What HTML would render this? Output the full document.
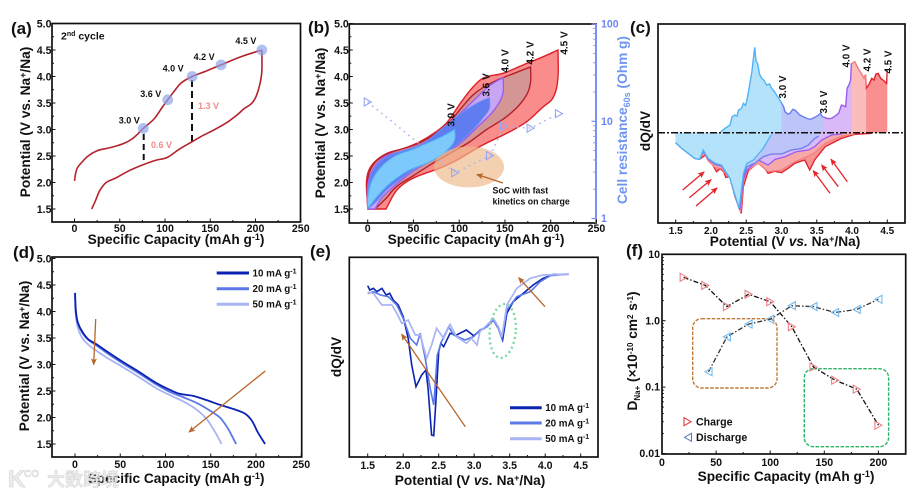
<!DOCTYPE html>
<html lang="en">
<head>
<meta charset="utf-8">
<title>Electrochemical charts</title>
<style>
html,body{margin:0;padding:0;background:#fff;}
svg{display:block;font-family:"Liberation Sans","Noto Sans CJK SC",sans-serif;font-weight:bold;filter:blur(0.35px);}
.fr{fill:none;stroke:#111;stroke-width:1.7;}
.tt{font-size:13.7px;fill:#111;text-anchor:middle;}
.pl{font-size:17px;fill:#111;}
.an{font-size:9px;fill:#111;}
.lg{font-size:9.8px;fill:#111;}
</style>
</head>
<body>
<svg id="fig" xmlns="http://www.w3.org/2000/svg" width="915" height="496" viewBox="0 0 915 496">
<defs>
<marker id="hb" markerWidth="7" markerHeight="6" refX="6" refY="3" orient="auto" markerUnits="userSpaceOnUse"><path d="M0,0L7,3L0,6L1.5,3z" fill="#b8652a"/></marker>
<marker id="hr" markerWidth="7" markerHeight="6" refX="6" refY="3" orient="auto" markerUnits="userSpaceOnUse"><path d="M0,0L7,3L0,6L1.5,3z" fill="#e3242b"/></marker>
</defs>
<rect width="915" height="496" fill="#fff"/>

<g id="pa">
  <text class="pl" x="11" y="34">(a)</text>
  <text class="tt" x="176" y="244">Specific Capacity (mAh g<tspan dy="-4" font-size="9">-1</tspan><tspan dy="4">)</tspan></text>
  <text class="tt" transform="translate(30,122) rotate(-90)">Potential (V vs. Na<tspan dy="-4" font-size="9">+</tspan><tspan dy="4">/Na)</tspan></text>
  <text x="61" y="39.5" font-size="10.5" fill="#111">2<tspan dy="-3.5" font-size="7">nd</tspan><tspan dy="3.5"> cycle</tspan></text>
  <line x1="143.7" y1="134" x2="143.7" y2="165" stroke="#111" stroke-width="2" stroke-dasharray="6,4"/>
  <line x1="192" y1="80" x2="192" y2="142" stroke="#111" stroke-width="2" stroke-dasharray="7,4"/>
  <text x="198" y="109" font-size="9" fill="#f28b8b">1.3 V</text>
  <text x="151" y="148" font-size="9" fill="#f28b8b">0.6 V</text>
</g>

<g id="pb">
  <text class="pl" x="308" y="33">(b)</text>
  <text class="tt" x="476" y="244">Specific Capacity (mAh g<tspan dy="-4" font-size="9">-1</tspan><tspan dy="4">)</tspan></text>
  <text class="tt" transform="translate(325,123) rotate(-90)">Potential (V vs. Na<tspan dy="-4" font-size="9">+</tspan><tspan dy="4">/Na)</tspan></text>
  <text class="tt" style="fill:#6f95f3" transform="translate(627,120) rotate(-90)">Cell resistance<tspan dy="3" font-size="9">60s</tspan><tspan dy="-3"> (Ohm g)</tspan></text>
</g>

<g id="pc">
  <text class="pl" x="630" y="33">(c)</text>
  <text class="tt" x="785" y="246">Potential (V <tspan font-style="italic">vs.</tspan> Na<tspan dy="-4" font-size="9">+</tspan><tspan dy="4">/Na)</tspan></text>
  <text class="tt" transform="translate(650,131) rotate(-90)">dQ/dV</text>
</g>

<g id="pd">
  <text class="pl" x="13" y="258">(d)</text>
  <text class="tt" x="176" y="483">Specific Capacity (mAh g<tspan dy="-4" font-size="9">-1</tspan><tspan dy="4">)</tspan></text>
  <text class="tt" transform="translate(29,356) rotate(-90)">Potential (V vs. Na<tspan dy="-4" font-size="9">+</tspan><tspan dy="4">/Na)</tspan></text>
</g>

<g id="pe">
  <text class="pl" x="310" y="257">(e)</text>
  <text class="tt" x="470" y="485">Potential (V <tspan font-style="italic">vs.</tspan> Na<tspan dy="-4" font-size="9">+</tspan><tspan dy="4">/Na)</tspan></text>
  <text class="tt" transform="translate(341,357) rotate(-90)">dQ/dV</text>
</g>

<g id="pf">
  <text class="pl" x="626" y="256">(f)</text>
  <text class="tt" x="786" y="481">Specific Capacity (mAh g<tspan dy="-4" font-size="9">-1</tspan><tspan dy="4">)</tspan></text>
  <text class="tt" transform="translate(637,351) rotate(-90)">D<tspan dy="3" font-size="8">Na+</tspan><tspan dy="-3"> (×10</tspan><tspan dy="-4" font-size="8">-10</tspan><tspan dy="4"> cm</tspan><tspan dy="-4" font-size="8">2</tspan><tspan dy="4"> s</tspan><tspan dy="-4" font-size="8">-1</tspan><tspan dy="4">)</tspan></text>
</g>

<g id="wm" opacity="0.85">
  <text x="8" y="487" font-size="24" fill="#e9e9e9" stroke="#c4c4c4" stroke-width="0.5">K</text>
  <text x="24" y="477" font-size="10" fill="#e9e9e9" stroke="#c4c4c4" stroke-width="0.4">CO</text>
  <text x="47" y="486" font-size="18" fill="#e9e9e9" stroke="#c4c4c4" stroke-width="0.4">大数跨境</text>
</g>
</svg>

<script>
/* ---------- panel (a) data ---------- */
const capTicks = [0, 50, 100, 150, 200, 250];
const potTicks = [1.5, 2.0, 2.5, 3.0, 3.5, 4.0, 4.5, 5.0];
const dvTicks = [1.5, 2.0, 2.5, 3.0, 3.5, 4.0, 4.5];
const aCharge = [[0,2.03],[1,2.15],[3,2.27],[8,2.38],[15,2.5],[25,2.6],[40,2.66],[55,2.74],[65,2.84],[76,3.02],[88,3.2],[97,3.42],[103,3.56],[110,3.72],[118,3.88],[130,4.0],[145,4.1],[162,4.22],[185,4.38],[207,4.5]];
const aDischarge = [[207,4.5],[207,4.1],[206,3.95],[204,3.8],[200,3.6],[195,3.48],[188,3.4],[180,3.28],[170,3.15],[155,3.0],[140,2.87],[130,2.77],[115,2.62],[102,2.47],[90,2.42],[75,2.33],[60,2.22],[45,2.08],[35,2.0],[28,1.85],[23,1.65],[19,1.5]];
const aStopCap = [76, 103, 130, 162, 207];
const aStopV = [3.02, 3.56, 4.0, 4.22, 4.5];
const aStopLabels = ['3.0 V', '3.6 V', '4.0 V', '4.2 V', '4.5 V'];

/* ---------- panel (b) data ---------- */
const b45 = [[0,1.5],[0,2.17],[6,2.36],[21,2.55],[39,2.64],[57,2.77],[75,2.96],[86,3.12],[101,3.49],[115,3.8],[126,3.97],[148,4.06],[170,4.22],[190,4.36],[208,4.5],[208,4.0],[206,3.75],[201,3.56],[192,3.43],[174,3.15],[155.5,2.96],[126,2.71],[97,2.42],[83,2.3],[46,2.05],[32,1.86],[20,1.5]];
const b42 = [[0,1.5],[0,2.05],[2,2.2],[8,2.38],[20,2.53],[35,2.62],[50,2.7],[65,2.82],[80,3.0],[90,3.15],[103,3.42],[115,3.65],[125,3.78],[140,3.92],[160,4.06],[178,4.18],[178,3.9],[175,3.7],[165,3.45],[150,3.22],[130,3.0],[110,2.75],[90,2.55],[70,2.35],[50,2.13],[30,1.9],[20,1.7],[8,1.5]];
const b40 = [[0,1.5],[0,1.95],[3,2.15],[10,2.35],[20,2.5],[35,2.58],[50,2.66],[65,2.78],[80,2.95],[95,3.2],[110,3.45],[125,3.7],[135,3.85],[148,3.98],[148,3.7],[145,3.55],[135,3.3],[120,3.05],[105,2.8],[90,2.6],[70,2.42],[50,2.22],[30,1.95],[15,1.7],[8,1.5]];
const b36 = [[0,1.55],[1,1.95],[5,2.2],[15,2.42],[30,2.55],[45,2.63],[60,2.73],[80,3.0],[100,3.28],[120,3.5],[133,3.6],[133,3.4],[125,3.2],[115,3.0],[100,2.75],[85,2.55],[60,2.35],[40,2.12],[20,1.85],[8,1.62],[0,1.5]];
const b30 = [[0,1.55],[0,1.7],[5,2.05],[15,2.3],[30,2.5],[50,2.63],[70,2.78],[85,2.9],[95,3.0],[95,2.8],[83,2.55],[64,2.36],[46,2.24],[24,1.98],[10,1.73],[0,1.51]];
const bResCap = [0, 95.5, 133.7, 149, 178, 209];
const bResOhm = [15.8, 2.96, 4.44, 8.96, 8.5, 12];
const resTicks = [1, 10, 100];

/* ---------- panel (c) data ---------- */
const cCharge = [[2.14,0.3],[2.2,1.3],[2.27,2.3],[2.3,4.8],[2.34,5.3],[2.37,5.0],[2.39,6.8],[2.43,7.2],[2.46,8.8],[2.49,8.2],[2.51,9.8],[2.54,13.3],[2.58,18.3],[2.62,25.6],[2.64,21.5],[2.66,20.8],[2.69,17.5],[2.72,16.3],[2.75,15.8],[2.79,14.3],[2.83,14.6],[2.86,13.3],[2.89,12.6],[2.93,11.3],[2.99,9.3],[3.03,7.8],[3.05,6.3],[3.09,5.6],[3.12,5.8],[3.16,7.0],[3.19,6.8],[3.23,6.0],[3.26,5.3],[3.31,4.8],[3.36,4.3],[3.41,4.0],[3.47,4.6],[3.52,5.2],[3.55,5.8],[3.58,4.8],[3.61,4.6],[3.66,4.2],[3.71,4.3],[3.76,5.0],[3.81,5.8],[3.85,8.3],[3.91,7.8],[3.93,13.3],[3.96,14.5],[3.98,15.8],[3.99,20.6],[4.04,21.3],[4.07,20.0],[4.1,18.8],[4.14,17.5],[4.17,16.3],[4.19,17.5],[4.2,13.3],[4.24,14.5],[4.28,16.3],[4.31,15.8],[4.34,17.6],[4.37,17.8],[4.41,16.2],[4.44,15.8],[4.49,14.8],[4.5,18.8]];
const cDis30 = [[1.5,-3],[1.585,-4.7],[1.68,-6.2],[1.77,-7.7],[1.84,-8],[1.89,-5.2],[1.96,-7.7],[2.06,-9.2],[2.15,-9.7],[2.27,-13.7],[2.34,-18.7],[2.40,-22.7],[2.46,-12.2],[2.51,-9.2],[2.60,-8.2],[2.74,-4.7],[2.85,-0.7]];
const cDis36 = [[1.5,-3],[1.585,-4.7],[1.68,-6.2],[1.77,-7.7],[1.84,-8],[1.89,-5.2],[1.96,-7.7],[2.06,-9.2],[2.15,-9.7],[2.27,-13.7],[2.34,-18.7],[2.40,-22.9],[2.46,-13],[2.51,-10.2],[2.62,-9.2],[2.74,-7.2],[2.86,-6.4],[3.0,-6.4],[3.14,-5.2],[3.29,-4.7],[3.38,-3.7],[3.47,-1.7],[3.53,-1.0]];
const cDis40 = [[1.5,-3],[1.585,-4.7],[1.68,-6.2],[1.77,-7.7],[1.84,-8],[1.89,-5.4],[1.96,-8],[2.06,-9.6],[2.15,-10],[2.27,-13.7],[2.34,-18.9],[2.41,-23.2],[2.46,-14],[2.51,-11.2],[2.67,-8.2],[2.81,-9.7],[2.91,-8],[3.05,-7.2],[3.21,-5.7],[3.38,-5.2],[3.47,-4.2],[3.57,-2.2],[3.71,-0.7],[3.85,-0.4]];
const cDis42 = [[1.5,-3],[1.585,-4.7],[1.68,-6.2],[1.77,-7.7],[1.84,-8],[1.89,-5.6],[1.96,-8.4],[2.06,-10.5],[2.15,-10.8],[2.27,-13.7],[2.34,-19],[2.42,-23.8],[2.46,-15],[2.51,-11.4],[2.67,-9.2],[2.81,-11.7],[3.0,-11.2],[3.19,-8.7],[3.36,-7.2],[3.47,-6],[3.62,-3.2],[3.85,-1],[4.04,-0.4]];
const cDis45 = [[1.5,-3],[1.585,-4.7],[1.68,-6.2],[1.77,-7.7],[1.84,-8],[1.92,-6.7],[2.01,-9.2],[2.08,-11.7],[2.13,-10.8],[2.18,-11.7],[2.21,-13.4],[2.27,-13.2],[2.34,-19.2],[2.43,-24.2],[2.46,-16.2],[2.53,-11.4],[2.6,-10.2],[2.67,-8.7],[2.74,-10],[2.81,-12.2],[2.9,-11.6],[3.0,-12],[3.1,-10.6],[3.19,-9.2],[3.27,-8.6],[3.33,-8.2],[3.40,-11.2],[3.47,-8.2],[3.62,-4.2],[3.85,-1.7],[4.04,-0.5],[4.28,-0.2]];
const cCutoffs = [1.5, 3.0, 3.6, 4.0, 4.2, 4.5];
const cCutoffLabels = ['3.0 V', '3.6 V', '4.0 V', '4.2 V', '4.5 V'];

/* ---------- panel (d) data ---------- */
const d10 = [[0,4.35],[1,4.0],[3,3.8],[8,3.62],[15,3.47],[22,3.4],[35,3.25],[50,3.08],[70,2.87],[90,2.65],[105,2.52],[115,2.45],[130,2.41],[145,2.33],[160,2.24],[175,2.16],[188,2.07],[195,1.95],[202,1.72],[210,1.5]];
const d20 = [[0,4.35],[1,4.0],[3,3.78],[8,3.6],[15,3.46],[22,3.38],[35,3.22],[50,3.05],[70,2.84],[90,2.62],[105,2.48],[120,2.38],[135,2.27],[150,2.12],[160,2.0],[168,1.82],[175,1.6],[178,1.5]];
const d50 = [[0,4.15],[1,3.9],[3,3.7],[8,3.5],[15,3.37],[22,3.28],[35,3.13],[50,2.98],[70,2.77],[90,2.55],[105,2.42],[120,2.3],[135,2.14],[145,1.98],[155,1.72],[162,1.5]];
const rateLabels = ['10 mA g', '20 mA g', '50 mA g'];

/* ---------- panel (e) data ---------- */
const e10 = [[1.5,20.8],[1.53,19.5],[1.58,20],[1.63,19],[1.7,20],[1.76,18],[1.81,18.5],[1.86,16.5],[1.93,15],[2.0,11.5],[2.07,5],[2.12,-3],[2.18,-9.5],[2.26,-6],[2.32,-4.5],[2.35,-10],[2.40,-24],[2.43,-24.2],[2.46,-14],[2.50,1],[2.53,3.5],[2.57,2.5],[2.66,6.5],[2.75,6],[2.89,7.5],[2.99,5.8],[3.08,7.2],[3.18,8.5],[3.27,10.5],[3.34,8],[3.40,4.5],[3.46,12.5],[3.55,16],[3.69,18.5],[3.83,21],[3.97,23],[4.12,24.2],[4.33,24.2]];
const e20 = [[1.5,18.5],[1.58,19],[1.68,18],[1.79,17.5],[1.91,15],[2.0,11],[2.10,5],[2.19,3],[2.24,6.5],[2.31,-1],[2.38,-10],[2.43,-15],[2.48,0],[2.54,4],[2.64,8.5],[2.71,6],[2.87,4.5],[2.99,5.5],[3.08,7.5],[3.18,8.5],[3.27,10.5],[3.34,8],[3.39,5],[3.46,13.5],[3.60,17.5],[3.79,19],[3.93,22],[4.07,23.8],[4.33,24.3]];
const e50 = [[1.5,18.8],[1.58,18.5],[1.70,15],[1.84,15],[1.91,12.5],[1.98,9.5],[2.07,10.5],[2.17,6],[2.24,6],[2.33,-1],[2.40,3],[2.47,8],[2.57,5],[2.66,9.2],[2.75,5.5],[2.89,3.5],[2.96,5],[3.04,3],[3.08,7],[3.18,9],[3.27,11],[3.34,8.5],[3.39,5.5],[3.46,15],[3.60,20],[3.79,23],[3.97,24],[4.33,24.3]];

/* ---------- panel (f) data ---------- */
const fChargeCap = [20, 40, 60, 80, 100, 120, 140, 160, 180, 200];
const fChargeD = [4.5, 3.4, 1.63, 2.5, 1.93, 0.81, 0.2, 0.127, 0.093, 0.0267];
const fDischargeCap = [43, 60, 80, 100, 120, 140, 160, 180, 200];
const fDischargeD = [0.17, 0.57, 0.89, 1.05, 1.68, 1.63, 1.33, 1.48, 2.1];
const fCapTicks = [0, 50, 100, 150, 200];
const fDTicks = [10, 1, 0.1, 0.01];
const fDTickLabels = ['10', '1.0', '0.1', '0.01'];

/* ---------- axis functions ---------- */
const xA = v => 74.5 + v * 0.905;
const yA = v => 209 - (v - 1.5) * 53;
const xB = v => 367.7 + v * 0.915;
const yB = v => 209 - (v - 1.5) * 53;
const yR = v => 218.5 - Math.log10(v) * 97.2;
const xC = v => 675.7 + (v - 1.5) * 70.53;
const yC = v => 132.7 - v * 3.333;
const xD = v => 75 + v * 0.905;
const yD = v => 444 - (v - 1.5) * 53;
const xE = v => 367.7 + (v - 1.5) * 71;
const yE = v => 355 - v * 3.333;
const xF = v => 662 + v * 1.082;
const yF = v => 320.7 - Math.log10(v) * 66.4;

const NS = 'http://www.w3.org/2000/svg';
const TICK_SIZE = 10.6;
function mk(tag, name, parent, attrs) {
  const el = document.createElementNS(NS, tag);
  
  
  for (const k in attrs) el.setAttribute(k, attrs[k]);
  parent.appendChild(el);
  return el;
}
function straight(pts, fx, fy) {
  return pts.map((p, i) => (i ? 'L' : 'M') + fx(p[0]).toFixed(2) + ',' + fy(p[1]).toFixed(2)).join('');
}
/* smooth curve with handle length limited by local segment, sharp corners preserved */
function smooth(pts, fx, fy) {
  const q = pts.map(p => [fx(p[0]), fy(p[1])]);
  const n = q.length;
  const unit = (a, b) => {
    const dx = b[0] - a[0], dy = b[1] - a[1], l = Math.hypot(dx, dy) || 1;
    return [dx / l, dy / l, l];
  };
  const tangents = q.map((p, i) => {
    if (i === 0 || i === n - 1) return null;
    const u = unit(q[i - 1], p), v = unit(p, q[i + 1]);
    if (u[0] * v[0] + u[1] * v[1] < 0.55) return null;
    const t = unit([0, 0], [u[0] + v[0], u[1] + v[1]]);
    return [t[0], t[1]];
  });
  let d = 'M' + q[0][0].toFixed(2) + ',' + q[0][1].toFixed(2);
  for (let i = 0; i < n - 1; i++) {
    const b = q[i], c = q[i + 1], s = unit(b, c);
    const h = s[2] / 3;
    const tb = tangents[i] || [s[0], s[1]];
    const tc = tangents[i + 1] || [s[0], s[1]];
    d += 'C' + (b[0] + tb[0] * h).toFixed(2) + ',' + (b[1] + tb[1] * h).toFixed(2) + ' ' +
         (c[0] - tc[0] * h).toFixed(2) + ',' + (c[1] - tc[1] * h).toFixed(2) + ' ' +
         c[0].toFixed(2) + ',' + c[1].toFixed(2);
  }
  return d;
}
function rotatedLabel(parent, name, x, y, str, size) {
  const t = mk('text', name, parent, {transform: 'translate(' + x + ',' + y + ') rotate(-90)', 'font-size': size, fill: '#111', 'text-anchor': 'middle', 'dominant-baseline': 'middle'});
  t.textContent = str;
}
function frame(parent, key, x0, y0, x1, y1) {
  mk('rect', 'plot-frame-' + key, parent, {x: x0, y: y0, width: x1 - x0, height: y1 - y0, class: 'fr'});
}
function xAxis(parent, key, ticks, labels, fx, y1, baseline, size, minorStep) {
  ticks.forEach((t, i) => {
    mk('line', 'x-tick-' + key, parent, {x1: fx(t), x2: fx(t), y1: y1, y2: y1 - 3.5, stroke: '#111', 'stroke-width': 1});
    const lab = mk('text', 'x-tick-label-' + key, parent, {x: fx(t), y: baseline, 'text-anchor': 'middle', 'font-size': size, fill: '#111'});
    lab.textContent = labels[i];
    if (i < ticks.length - 1) {
      const m = t + minorStep;
      mk('line', 'x-minor-tick-' + key, parent, {x1: fx(m), x2: fx(m), y1: y1, y2: y1 - 2, stroke: '#111', 'stroke-width': 1});
    }
  });
}
function yAxis(parent, key, ticks, fy, xLeft, size) {
  ticks.forEach((t, i) => {
    mk('line', 'y-tick-' + key, parent, {x1: xLeft, x2: xLeft + 3.5, y1: fy(t), y2: fy(t), stroke: '#111', 'stroke-width': 1});
    const lab = mk('text', 'y-tick-label-' + key, parent, {x: xLeft - 0.5, y: fy(t) + size * 0.36, 'text-anchor': 'end', 'font-size': size, fill: '#111'});
    lab.textContent = t.toFixed(1);
    if (i < ticks.length - 1) {
      const m = t + 0.25;
      mk('line', 'y-minor-tick-' + key, parent, {x1: xLeft, x2: xLeft + 2, y1: fy(m), y2: fy(m), stroke: '#111', 'stroke-width': 1});
    }
  });
}
function triangle(parent, name, cx, cy, dir, color) {
  const s = 3.5 * dir;
  return mk('polygon', name, parent, {points: (cx + s) + ',' + cy + ' ' + (cx - s) + ',' + (cy - 4) + ' ' + (cx - s) + ',' + (cy + 4), fill: 'none', stroke: color, 'stroke-width': 1.1});
}
function arrow(parent, name, x1, y1, x2, y2, marker, color) {
  mk('line', name, parent, {x1: x1, y1: y1, x2: x2, y2: y2, stroke: color, 'stroke-width': 1.3, 'marker-end': 'url(#' + marker + ')'});
}
function legendRow(parent, key, x1, x2, y, color, label) {
  mk('line', 'legend-line-' + key, parent, {x1: x1, x2: x2, y1: y, y2: y, stroke: color, 'stroke-width': 3});
  const t = mk('text', 'legend-entry-' + key, parent, {x: x2 + 3.5, y: y + 3.4, class: 'lg'});
  t.textContent = label;
  const s = mk('tspan', 'legend-superscript', t, {dy: -3, 'font-size': 7});
  s.textContent = '-1';
}

/* ---------- panel (a) ---------- */
const pa = document.getElementById('pa');
frame(pa, 'a', 52, 23.5, 300.5, 222);
xAxis(pa, 'a', capTicks, capTicks.map(String), xA, 222, 232, TICK_SIZE, 25);
yAxis(pa, 'a', potTicks, yA, 52, TICK_SIZE);
mk('path', 'charge-curve-a', pa, {d: smooth(aCharge, xA, yA), fill: 'none', stroke: '#b3232b', 'stroke-width': 1.6});
mk('path', 'discharge-curve-a', pa, {d: smooth(aDischarge, xA, yA), fill: 'none', stroke: '#b3232b', 'stroke-width': 1.6});
const aLabelDX = [-14, -17, -19, -17, -16];
const aLabelDY = [-5, -3, -5, -5, -6];
aStopCap.forEach((c, i) => {
  mk('circle', 'cutoff-dot-a', pa, {cx: xA(c), cy: yA(aStopV[i]), r: 5.4, fill: '#8aa4ea', 'fill-opacity': 0.68});
  const t = mk('text', 'cutoff-label-a', pa, {x: xA(c) + aLabelDX[i], y: yA(aStopV[i]) + aLabelDY[i], class: 'an', 'text-anchor': 'middle'});
  t.textContent = aStopLabels[i];
});

/* ---------- panel (b) ---------- */
const pb = document.getElementById('pb');
mk('path', 'loop-4-5v', pb, {d: smooth(b45, xB, yB) + 'Z', fill: '#fa8c8c', stroke: '#dc2029', 'stroke-width': 1.4});
mk('path', 'loop-4-2v', pb, {d: smooth(b42, xB, yB) + 'Z', fill: '#d49595', stroke: '#b3222e', 'stroke-width': 1.4});
mk('path', 'loop-4-0v', pb, {d: smooth(b40, xB, yB) + 'Z', fill: '#c9a6f3', stroke: '#9a5cf0', 'stroke-width': 1.3});
mk('path', 'loop-3-6v', pb, {d: smooth(b36, xB, yB) + 'Z', fill: '#5f7df0', stroke: '#6e8cf6', 'stroke-width': 1});
mk('path', 'loop-3-0v', pb, {d: smooth(b30, xB, yB) + 'Z', fill: '#7ec9fb', stroke: '#4fb3f5', 'stroke-width': 1});
mk('ellipse', 'fast-kinetics-region', pb, {cx: 469, cy: 167, rx: 35, ry: 20.5, fill: '#eeb98a', 'fill-opacity': 0.68});
frame(pb, 'b', 349.3, 24, 596, 223);
mk('line', 'right-axis-line', pb, {x1: 596, x2: 596, y1: 24, y2: 223, stroke: '#7b8ff5', 'stroke-width': 2});
xAxis(pb, 'b', capTicks, capTicks.map(String), xB, 223, 232, TICK_SIZE, 25);
yAxis(pb, 'b', potTicks, yB, 349.3, TICK_SIZE);
resTicks.forEach(t => {
  mk('line', 'right-tick', pb, {x1: 596, x2: 591.5, y1: yR(t), y2: yR(t), stroke: '#7b8ff5', 'stroke-width': 1.2});
  const lab = mk('text', 'right-tick-label', pb, {x: 601, y: yR(t) + 3.6, 'font-size': TICK_SIZE, fill: '#6f86f3'});
  lab.textContent = String(t);
  for (let k = 2; k < 10 && t < 100; k++) {
    mk('line', 'right-minor-tick', pb, {x1: 596, x2: 593, y1: yR(t * k), y2: yR(t * k), stroke: '#7b8ff5', 'stroke-width': 0.8});
  }
});
mk('path', 'resistance-line', pb, {d: straight(bResCap.map((c, i) => [c, bResOhm[i]]), xB, yR), fill: 'none', stroke: '#a9b6f3', 'stroke-width': 1.6, 'stroke-dasharray': '1.6,4.2'});
bResCap.forEach((c, i) => {
  triangle(pb, 'resistance-point', xB(c), yR(bResOhm[i]), 1, '#9aa6ee');
});
const bLabelX = [451.7, 486.7, 505.7, 530.7, 565];
const bLabelY = [115, 85, 61, 53, 43];
cCutoffLabels.forEach((s, i) => rotatedLabel(pb, 'cutoff-label-b', bLabelX[i], bLabelY[i], s, 10));
arrow(pb, 'soc-arrow', 503, 183, 477, 174.5, 'hb', '#b8652a');
const soc1 = mk('text', 'soc-annotation-line-1', pb, {x: 492.5, y: 193.5, 'font-size': 8.8, fill: '#111'});
soc1.textContent = 'SoC with fast';
const soc2 = mk('text', 'soc-annotation-line-2', pb, {x: 492.5, y: 204.5, 'font-size': 8.8, fill: '#111'});
soc2.textContent = 'kinetics on charge';

/* ---------- panel (c) ---------- */
const pc = document.getElementById('pc');
const bandFill = ['#b5e2fb', '#bcc4f8', '#d9b9f7', '#fcbcbc', '#fa8f8f'];
const bandLine = ['#4fb3f5', '#6a7ef0', '#9a5cf0', '#f47c7c', '#e0202a'];
const defs = document.querySelector('defs');
const cArea = [[cCharge[0][0], 0]].concat(cCharge, [[cCharge[cCharge.length - 1][0], 0]]);
cCutoffs.slice(0, -1).forEach((v, i) => {
  const clip = mk('clipPath', 'band-clip', defs, {id: 'band' + i});
  mk('rect', 'band-clip-rect', clip, {x: xC(v), y: 20, width: xC(cCutoffs[i + 1]) - xC(v) + 0.5, height: 210});
  mk('path', 'charge-area-band', pc, {d: straight(cArea, xC, yC) + 'Z', fill: bandFill[i], 'clip-path': 'url(#band' + i + ')'});
  mk('path', 'charge-line-band', pc, {d: straight(cCharge, xC, yC), fill: 'none', stroke: bandLine[i], 'stroke-width': 1.4, 'clip-path': 'url(#band' + i + ')'});
});
[[cDis45, '#f79292', '#e0202a', '4-5v'], [cDis42, '#f7a8a8', '#f28080', '4-2v'], [cDis40, '#d9b9f7', '#9a5cf0', '4-0v'], [cDis36, '#bcc4f8', '#6a7ef0', '3-6v'], [cDis30, '#b5e2fb', '#4fb3f5', '3-0v']].forEach(r => {
  const pts = r[0];
  const area = [[pts[0][0], 0]].concat(pts, [[pts[pts.length - 1][0], 0]]);
  mk('path', 'discharge-area-' + r[3], pc, {d: straight(area, xC, yC) + 'Z', fill: r[1]});
  mk('path', 'discharge-line-' + r[3], pc, {d: straight(pts, xC, yC), fill: 'none', stroke: r[2], 'stroke-width': 1.3});
});
mk('line', 'zero-line', pc, {x1: 658, x2: 905, y1: yC(0), y2: yC(0), stroke: '#111', 'stroke-width': 1.5, 'stroke-dasharray': '7,2,2,2'});
frame(pc, 'c', 658, 24, 905, 223);
xAxis(pc, 'c', dvTicks, dvTicks.map(v => v.toFixed(1)), xC, 223, 234, 10, 0.25);
const cLabelX = [783.3, 824.3, 847, 868, 889];
const cLabelY = [87, 102, 56, 60, 62];
cCutoffLabels.forEach((s, i) => rotatedLabel(pc, 'cutoff-label-c', cLabelX[i], cLabelY[i], s, 9.8));
arrow(pc, 'red-arrow-low-1', 682.7, 190, 704, 172, 'hr', '#e3242b');
arrow(pc, 'red-arrow-low-2', 689.3, 197.7, 711, 179.7, 'hr', '#e3242b');
arrow(pc, 'red-arrow-low-3', 696, 206, 717, 188, 'hr', '#e3242b');
arrow(pc, 'red-arrow-high-1', 830, 193.3, 813.3, 170.7, 'hr', '#e3242b');
arrow(pc, 'red-arrow-high-2', 838.3, 186.7, 821.7, 165, 'hr', '#e3242b');
arrow(pc, 'red-arrow-high-3', 847.3, 181.7, 831, 159.3, 'hr', '#e3242b');

/* ---------- panel (d) ---------- */
const pd = document.getElementById('pd');
frame(pd, 'd', 52, 257, 301.7, 457);
xAxis(pd, 'd', capTicks, capTicks.map(String), xD, 457, 468, TICK_SIZE, 25);
yAxis(pd, 'd', potTicks, yD, 52, TICK_SIZE);
mk('path', 'discharge-50-ma', pd, {d: smooth(d50, xD, yD), fill: 'none', stroke: '#a8b4f4', 'stroke-width': 1.8});
mk('path', 'discharge-20-ma', pd, {d: smooth(d20, xD, yD), fill: 'none', stroke: '#5c78e8', 'stroke-width': 1.8});
mk('path', 'discharge-10-ma', pd, {d: smooth(d10, xD, yD), fill: 'none', stroke: '#0a23b0', 'stroke-width': 1.8});
arrow(pd, 'arrow-d-upper', 95.7, 319, 93.7, 364.5, 'hb', '#b8652a');
arrow(pd, 'arrow-d-lower', 265.3, 371, 189, 432, 'hb', '#b8652a');
legendRow(pd, 'd-10', 216.7, 249, 273, '#0a23b0', rateLabels[0]);
legendRow(pd, 'd-20', 216.7, 249, 288.7, '#5c78e8', rateLabels[1]);
legendRow(pd, 'd-50', 216.7, 249, 304.3, '#a8b4f4', rateLabels[2]);

/* ---------- panel (e) ---------- */
const pe = document.getElementById('pe');
frame(pe, 'e', 349.3, 257.3, 598, 457);
xAxis(pe, 'e', dvTicks, dvTicks.map(v => v.toFixed(1)), xE, 457, 469, TICK_SIZE, 0.25);
mk('path', 'dqdv-10-ma', pe, {d: straight(e10, xE, yE), fill: 'none', stroke: '#0a23b0', 'stroke-width': 1.6});
mk('path', 'dqdv-20-ma', pe, {d: straight(e20, xE, yE), fill: 'none', stroke: '#5c78e8', 'stroke-width': 1.6});
mk('path', 'dqdv-50-ma', pe, {d: straight(e50, xE, yE), fill: 'none', stroke: '#a8b4f4', 'stroke-width': 1.7});
mk('ellipse', 'peak-highlight', pe, {cx: 502.7, cy: 331, rx: 13, ry: 27, transform: 'rotate(5 502.7 331)', fill: 'none', stroke: '#7dd8a6', 'stroke-width': 2.4, 'stroke-dasharray': '2,3'});
arrow(pe, 'arrow-e-left', 465.3, 426.7, 401.7, 334.3, 'hb', '#b8652a');
arrow(pe, 'arrow-e-right', 545, 306.7, 518.7, 277.7, 'hb', '#b8652a');
legendRow(pe, 'e-10', 510, 541.7, 407.7, '#0a23b0', rateLabels[0]);
legendRow(pe, 'e-20', 510, 541.7, 423, '#5c78e8', rateLabels[1]);
legendRow(pe, 'e-50', 510, 541.7, 438.7, '#a8b4f4', rateLabels[2]);

/* ---------- panel (f) ---------- */
const pf = document.getElementById('pf');
mk('rect', 'highlight-box-orange', pf, {x: 692.7, y: 318.7, width: 84.3, height: 69.3, rx: 9, fill: 'none', stroke: '#c07a3a', 'stroke-width': 1.4, 'stroke-dasharray': '3.5,1.5'});
mk('rect', 'highlight-box-green', pf, {x: 804.3, y: 368.7, width: 84.3, height: 78, rx: 9, fill: 'none', stroke: '#2ab566', 'stroke-width': 1.4, 'stroke-dasharray': '3.5,1.5'});
frame(pf, 'f', 662, 254.3, 905.7, 454);
xAxis(pf, 'f', fCapTicks, fCapTicks.map(String), xF, 454, 466, TICK_SIZE, 25);
fDTicks.forEach((t, i) => {
  mk('line', 'y-tick-f', pf, {x1: 662, x2: 665.5, y1: yF(t), y2: yF(t), stroke: '#111', 'stroke-width': 1});
  const lab = mk('text', 'y-tick-label-f', pf, {x: 660, y: yF(t) + 3.6, 'text-anchor': 'end', 'font-size': TICK_SIZE, fill: '#111'});
  lab.textContent = fDTickLabels[i];
  for (let k = 2; k < 10 && t > 0.01; k++) {
    mk('line', 'y-minor-tick-f', pf, {x1: 662, x2: 664, y1: yF(t / 10 * k), y2: yF(t / 10 * k), stroke: '#111', 'stroke-width': 0.8});
  }
});
mk('path', 'charge-line-f', pf, {d: straight(fChargeCap.map((c, i) => [c, fChargeD[i]]), xF, yF), fill: 'none', stroke: '#111', 'stroke-width': 1.3, 'stroke-dasharray': '5,2,1.5,2'});
mk('path', 'discharge-line-f', pf, {d: straight(fDischargeCap.map((c, i) => [c, fDischargeD[i]]), xF, yF), fill: 'none', stroke: '#333', 'stroke-width': 1.3, 'stroke-dasharray': '5,2,1.5,2'});
fChargeCap.forEach((c, i) => {
  triangle(pf, 'charge-point', xF(c), yF(fChargeD[i]), 1, '#ef7f83');
});
fDischargeCap.forEach((c, i) => {
  triangle(pf, 'discharge-point', xF(c), yF(fDischargeD[i]), -1, '#72b9ee');
});
triangle(pf, 'legend-marker-charge', 687.5, 421.7, 1, '#e23a44');
triangle(pf, 'legend-marker-discharge', 688, 437.3, -1, '#5b7fb5');
const fl1 = mk('text', 'legend-entry-charge', pf, {x: 696, y: 425.5, 'font-size': 10.6, fill: '#111'});
fl1.textContent = 'Charge';
const fl2 = mk('text', 'legend-entry-discharge', pf, {x: 696, y: 441, 'font-size': 10.6, fill: '#111'});
fl2.textContent = 'Discharge';
</script>
</body>
</html>
